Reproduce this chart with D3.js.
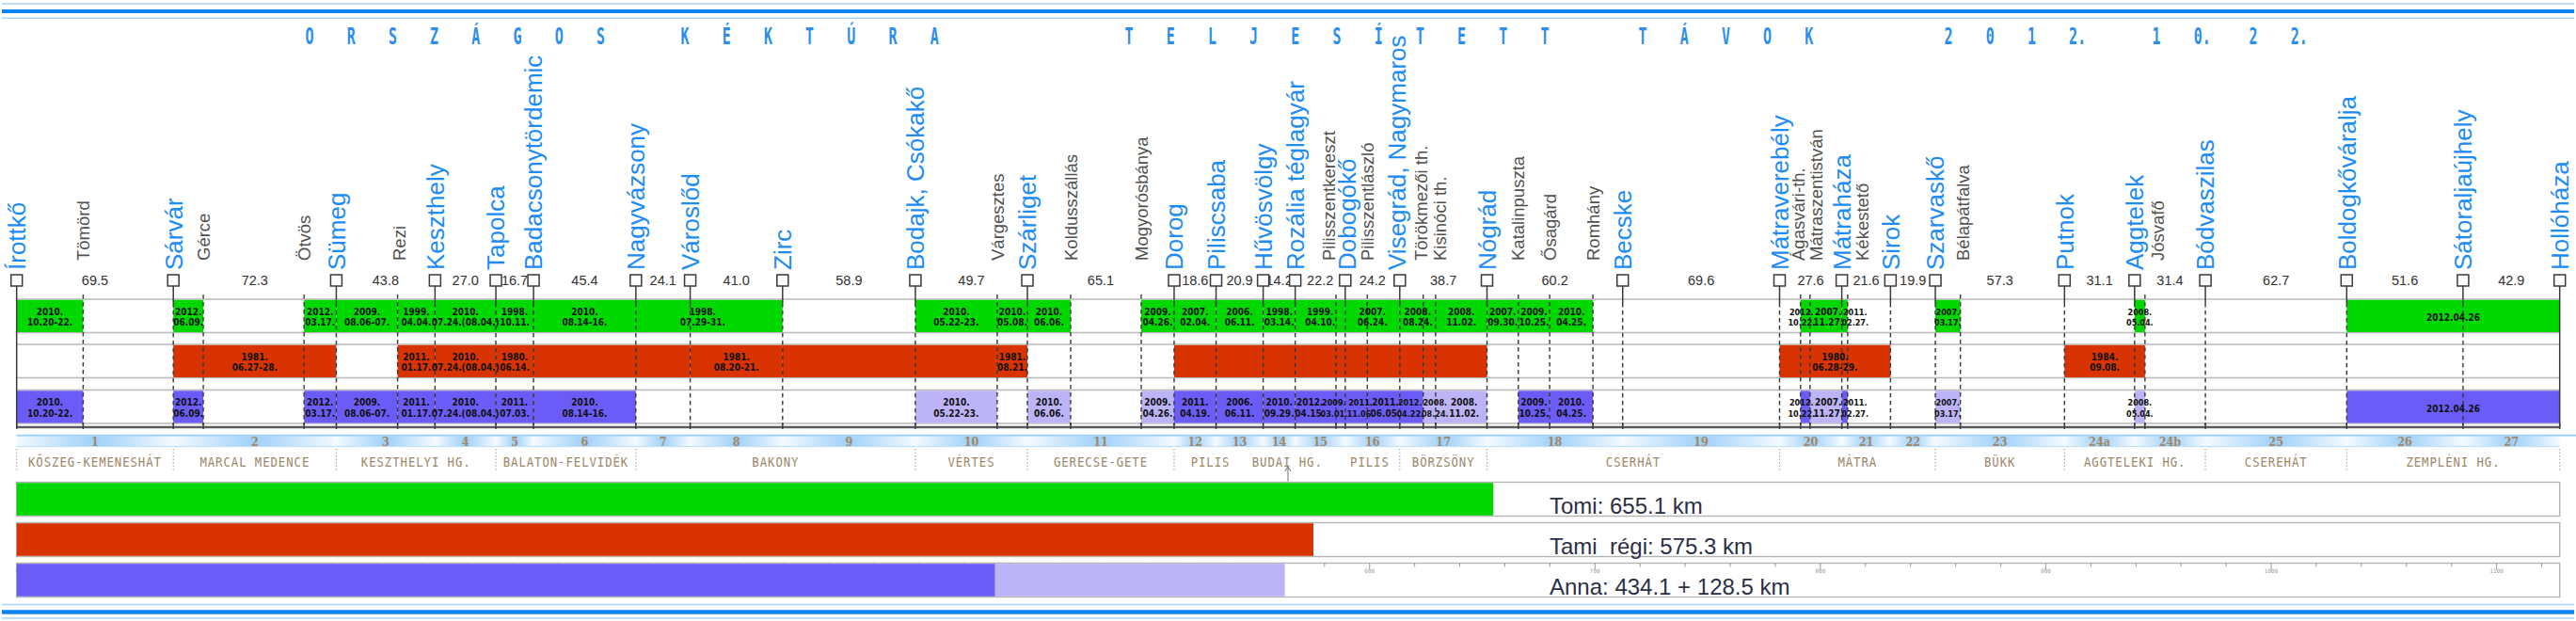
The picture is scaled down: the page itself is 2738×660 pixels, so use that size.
<!DOCTYPE html>
<html><head><meta charset="utf-8">
<script src="https://cdn.jsdelivr.net/npm/d3@7"></script>
<style>
html,body{margin:0;padding:0;background:#fff;}
svg{display:block;}
</style></head><body>
<svg id="chart" width="2738" height="660"></svg>
<script>
// ================= DATA =================
const titleWords = ["ORSZÁGOS","KÉKTÚRA","TELJESÍTETT","TÁVOK","2012.","10.","22."];

const stations = ["Írottkő","Sárvár","Sümeg","Keszthely","Tapolca","Badacsonytördemic","Nagyvázsony","Városlőd","Zirc","Bodajk, Csókakő","Szárliget","Dorog","Piliscsaba","Hűvösvölgy","Rozália téglagyár","Dobogókő","Visegrád, Nagymaros","Nógrád","Becske","Mátraverebély","Mátraháza","Sirok","Szarvaskő","Putnok","Aggtelek","Bódvaszilas","Boldogkőváralja","Sátoraljaújhely","Hollóháza"];
const legKm = [69.5,72.3,43.8,27.0,16.7,45.4,24.1,41.0,58.9,49.7,65.1,18.6,20.9,14.2,22.2,24.2,38.7,60.2,69.6,27.6,21.6,19.9,57.3,31.1,31.4,62.7,51.6,42.9];
const stageLabels = ["1","2","3","4","5","6","7","8","9","10","11","12","13","14","15","16","17","18","19","20","21","22","23","24a","24b","25","26","27"];

const minorStations = ["Tömörd","Gérce","Ötvös","Rezi","Várgesztes","Koldusszállás","Mogyorósbánya","Pilisszentkereszt","Pilisszentlászló","Törökmezői th.","Kisinóci th.","Katalinpuszta","Ősagárd","Romhány","Ágasvári-th.","Mátraszentistván","Kékestető","Bélapátfalva","Jósvafő"];
const minorKm = [29.5,82.8,127.5,169.0,435.0,467.6,498.9,585.3,599.2,624.0,629.5,666.2,680.1,699.3,791.4,795.6,812.3,862.3,944.2];

const regionNames = ["KŐSZEG-KEMENESHÁT","MARCAL MEDENCE","KESZTHELYI HG.","BALATON-FELVIDÉK","BAKONY","VÉRTES","GERECSE-GETE","PILIS","BUDAI HG.","PILIS","BÖRZSÖNY","CSERHÁT","MÁTRA","BÜKK","AGGTELEKI HG.","CSEREHÁT","ZEMPLÉNI HG."];
const regionFrom = ["Írottkő","Sárvár","Sümeg","Tapolca","Nagyvázsony","Bodajk, Csókakő","Szárliget","Dorog","Dorog","Dorog","Visegrád, Nagymaros","Nógrád","Mátraverebély","Szarvaskő","Putnok","Bódvaszilas","Boldogkőváralja"];
const regionTo = ["Sárvár","Sümeg","Tapolca","Nagyvázsony","Bodajk, Csókakő","Szárliget","Dorog","Visegrád, Nagymaros","Visegrád, Nagymaros","Visegrád, Nagymaros","Nógrád","Mátraverebély","Szarvaskő","Putnok","Bódvaszilas","Boldogkőváralja","Hollóháza"];
const regionLabelKm = [null,null,null,null,null,null,null,529.6,563.7,600.3,null,null,null,null,null,null,null];
const budapestMarkKm = 564.0;

// Tomi
const tomiLegs = [
  ["Írottkő","Tömörd","2010.|10.20-22."],
  ["Sárvár","Gérce","2012.|06.09."],
  ["Ötvös","Sümeg","2012.|03.17."],
  ["Sümeg","Rezi","2009.|08.06-07."],
  ["Rezi","Keszthely","1999.|04.04."],
  ["Keszthely","Tapolca","2010.|07.24.(08.04.)"],
  ["Tapolca","Badacsonytördemic","1998.|10.11."],
  ["Badacsonytördemic","Nagyvázsony","2010.|08.14-16."],
  ["Nagyvázsony","Zirc","1998.|07.29-31."],
  ["Bodajk, Csókakő","Várgesztes","2010.|05.22-23."],
  ["Várgesztes","Szárliget","2010.|05.08."],
  ["Szárliget","Koldusszállás","2010.|06.06."],
  ["Mogyorósbánya","Dorog","2009.|04.26."],
  ["Dorog","Piliscsaba","2007.|02.04."],
  ["Piliscsaba","Hűvösvölgy","2006.|06.11."],
  ["Hűvösvölgy","Rozália téglagyár","1998.|03.14."],
  ["Rozália téglagyár","Dobogókő","1999.|04.10."],
  ["Dobogókő","Visegrád, Nagymaros","2007.|06.24."],
  ["Visegrád, Nagymaros","Kisinóci th.","2008.|08.24."],
  ["Kisinóci th.","Nógrád","2008.|11.02."],
  ["Nógrád","Katalinpuszta","2007.|09.30."],
  ["Katalinpuszta","Ősagárd","2009.|10.25."],
  ["Ősagárd","Romhány","2010.|04.25."],
  ["Ágasvári-th.","Mátraszentistván","2012.|10.22."],
  ["Mátraszentistván","Mátraháza","2007.|11.27."],
  ["Mátraháza","Kékestető","2011.|02.27."],
  ["Szarvaskő","Bélapátfalva","2007.|03.17."],
  ["Aggtelek","Jósvafő","2008.|05.04."],
  ["Boldogkőváralja","Hollóháza","2012.04.26"]
];
// Tami régi
const tamiLegs = [
  ["Sárvár","Sümeg","1981.|06.27-28."],
  ["Rezi","Keszthely","2011.|01.17."],
  ["Keszthely","Tapolca","2010.|07.24.(08.04.)"],
  ["Tapolca","Badacsonytördemic","1980.|06.14."],
  ["Badacsonytördemic","Városlőd",""],
  ["Városlőd","Zirc","1981.|08.20-21."],
  ["Zirc","Várgesztes",""],
  ["Várgesztes","Szárliget","1981.|08.21."],
  ["Dorog","Nógrád",""],
  ["Mátraverebély","Sirok","1980.|06.28-29."],
  ["Putnok","Jósvafő","1984.|09.08."]
];
// Anna (d = teljes, l = világos)
const annaLegs = [
  ["Írottkő","Tömörd","2010.|10.20-22.","d"],
  ["Sárvár","Gérce","2012.|06.09.","d"],
  ["Ötvös","Sümeg","2012.|03.17.","d"],
  ["Sümeg","Rezi","2009.|08.06-07.","d"],
  ["Rezi","Keszthely","2011.|01.17.","d"],
  ["Keszthely","Tapolca","2010.|07.24.(08.04.)","d"],
  ["Tapolca","Badacsonytördemic","2011.|07.03.","d"],
  ["Badacsonytördemic","Nagyvázsony","2010.|08.14-16.","d"],
  ["Bodajk, Csókakő","Várgesztes","2010.|05.22-23.","l"],
  ["Szárliget","Koldusszállás","2010.|06.06.","l"],
  ["Mogyorósbánya","Dorog","2009.|04.26.","l"],
  ["Dorog","Piliscsaba","2011.|04.19.","d"],
  ["Piliscsaba","Hűvösvölgy","2006.|06.11.","d"],
  ["Hűvösvölgy","Rozália téglagyár","2010.|09.29.","d"],
  ["Rozália téglagyár","Pilisszentkereszt","2012.|04.15.","d"],
  ["Pilisszentkereszt","Dobogókő","2009.|03.01.","d"],
  ["Dobogókő","Pilisszentlászló","2011.|11.06.","d"],
  ["Pilisszentlászló","Visegrád, Nagymaros","2011.|06.05.","d"],
  ["Visegrád, Nagymaros","Törökmezői th.","2012.|04.22.","d"],
  ["Törökmezői th.","Kisinóci th.","2008.|08.24.","l"],
  ["Kisinóci th.","Nógrád","2008.|11.02.","l"],
  ["Katalinpuszta","Ősagárd","2009.|10.25.","d"],
  ["Ősagárd","Romhány","2010.|04.25.","d"],
  ["Ágasvári-th.","Mátraszentistván","2012.|10.22.","d"],
  ["Mátraszentistván","Mátraháza","2007.|11.27.","l"],
  ["Mátraháza","Kékestető","2011.|02.27.","d"],
  ["Szarvaskő","Bélapátfalva","2007.|03.17.","l"],
  ["Aggtelek","Jósvafő","2008.|05.04.","l"],
  ["Boldogkőváralja","Hollóháza","2012.04.26","d"]
];

const summaryLabels = ["Tomi: 655.1 km","Tami  régi: 575.3 km","Anna: 434.1 + 128.5 km"];
const summaryDone = [655.1, 575.3, 434.1];
const summaryPartial = [0, 0, 128.5];

// ================= LAYOUT =================
const svg = d3.select("#chart");
const cum = [0, ...d3.cumsum(legKm)];
const totalKm = cum[cum.length - 1];
const x = d3.scaleLinear().domain([0, totalKm]).range([17.7, 2720.7]);
const kmOf = new Map();
stations.forEach((s, i) => kmOf.set(s, cum[i]));
minorStations.forEach((s, i) => kmOf.set(s, minorKm[i]));
const X = n => x(kmOf.get(n));

// label nudges (layout only)
const nameDx = {"Pilisszentkereszt": -7.5, "Ágasvári-th.": -2, "Mátraszentistván": 6.5, "Kékestető": 15.5,
  "Törökmezői th.": -2, "Kisinóci th.": 4, "Jósvafő": 13.5, "Bélapátfalva": 3, "Rezi": 2,
  "Dobogókő": 2, "Visegrád, Nagymaros": -3};
const dateDx = {"0|Ágasvári-th.": -4, "2|Ágasvári-th.": -4, "0|Mátraszentistván": 2.5, "2|Mátraszentistván": 2.5,
  "0|Mátraháza": 11, "2|Mátraháza": 11, "2|Rozália téglagyár": -6, "2|Pilisszentkereszt": -7,
  "2|Dobogókő": 4.5, "2|Pilisszentlászló": 2, "2|Visegrád, Nagymaros": -1.5,
  "2|Törökmezői th.": 6, "2|Kisinóci th.": 3, "0|Nagyvázsony": -7};

const BLUE = "#1d8cf5";
const SANS = "'Liberation Sans', Arial, sans-serif";
const NARROW = "'Liberation Sans Narrow', 'DejaVu Sans Condensed', sans-serif";
const MONO = "'DejaVu Sans Mono', monospace";

// decorative lines top & bottom
[[4,1.6,"#a9d5fb"],[12,4,"#0b83f1"],[19.2,1.6,"#a9d5fb"],[642.5,1.6,"#a9d5fb"],[650.5,4.4,"#0b83f1"],[657,1.6,"#a9d5fb"]]
  .forEach(([y,w,c]) => svg.append("line").attr("x1",2).attr("x2",2736).attr("y1",y).attr("y2",y)
    .attr("stroke",c).attr("stroke-width",w));

// title
const titleX = [329,728,1200,1746,2071,2292,2395];
const pitch = 44.2;
titleWords.forEach((w, i) => {
  const toks = w.match(/[^.]\.?/g);
  toks.forEach((t, j) => {
    svg.append("text")
      .attr("transform", `translate(${titleX[i] + j * pitch},47) scale(0.6,1)`)
      .attr("x", -7.5)
      .attr("font-family", MONO).attr("font-size", 25).attr("font-weight", "bold").attr("fill", "#2b8eec")
      .text(t);
  });
});

// ---- grid rows ----
const rowTop = [318, 366, 414.5], rowH = 35.5;
const gx0 = x(0), gx1 = x(totalKm);
const rowsG = svg.append("g");
rowTop.forEach(t => {
  [t, t + rowH].forEach(y => rowsG.append("line").attr("x1",gx0).attr("x2",gx1).attr("y1",y).attr("y2",y)
    .attr("stroke","#b8b8b8").attr("stroke-width",1.4));
});
rowsG.append("line").attr("x1",gx0).attr("x2",gx1).attr("y1",454).attr("y2",454)
  .attr("stroke","#5c5c5c").attr("stroke-width",2.4);

const allRows = [tomiLegs, tamiLegs, annaLegs];
const colorOf = (r, shade) => r === 0 ? "#00d800" : r === 1 ? "#d83300" : (shade === "l" ? "#bdb4f8" : "#6c5cf7");
allRows.forEach((legs, r) => {
  const g = svg.append("g");
  g.selectAll("rect").data(legs).join("rect")
    .attr("x", d => X(d[0])).attr("width", d => X(d[1]) - X(d[0]))
    .attr("y", rowTop[r] + 0.8).attr("height", rowH - 1.3)
    .attr("fill", d => colorOf(r, d[3]));
});

// station lines
const lineG = svg.append("g");
minorStations.forEach(s => {
  lineG.append("line").attr("x1",X(s)).attr("x2",X(s)).attr("y1",313).attr("y2",452)
    .attr("stroke","#383838").attr("stroke-width",1.4).attr("stroke-dasharray","4.5,3.5");
});
stations.forEach((s, i) => {
  const xx = X(s), edge = (i === 0 || i === stations.length - 1);
  lineG.append("line").attr("x1",xx).attr("x2",xx).attr("y1",304).attr("y2",edge ? 454 : 322)
    .attr("stroke","#3a3a3a").attr("stroke-width",1.5);
  if (!edge) lineG.append("line").attr("x1",xx).attr("x2",xx).attr("y1",322).attr("y2",452)
    .attr("stroke","#383838").attr("stroke-width",1.4).attr("stroke-dasharray","4.5,3.5");
});
[...stations, ...minorStations].forEach(s => {
  lineG.append("line").attr("x1",X(s)).attr("x2",X(s)).attr("y1",449).attr("y2",456)
    .attr("stroke","#3a3a3a").attr("stroke-width",1.4);
});

// bar labels
allRows.forEach((legs, r) => {
  legs.forEach(d => {
    if (!d[2]) return;
    const w = X(d[1]) - X(d[0]);
    const cx = (X(d[0]) + X(d[1])) / 2 + (dateDx[r + "|" + d[0]] || 0);
    const lines = d[2].split("|");
    const t = svg.append("text").attr("text-anchor","middle")
      .attr("font-family", NARROW).attr("font-weight","bold").attr("font-size", w < 30 ? 9 : 10).attr("fill","#111");
    if (lines.length === 1) {
      t.attr("x", cx).attr("y", rowTop[r] + 23).text(lines[0]);
    } else {
      lines.forEach((ln, k) => t.append("tspan").attr("x", cx).attr("y", rowTop[r] + 16.5 + k * 11.8).text(ln));
    }
  });
});

// station names
stations.forEach(s => {
  svg.append("text").attr("transform", `translate(${X(s) + (nameDx[s] || 0)},287) rotate(-90)`)
    .attr("dy","0.36em").attr("font-family", SANS).attr("font-size", 26).attr("fill", BLUE).text(s);
});
minorStations.forEach(s => {
  svg.append("text").attr("transform", `translate(${X(s) + (nameDx[s] || 0)},277) rotate(-90)`)
    .attr("dy","0.36em").attr("font-family", SANS).attr("font-size", 18.5).attr("fill", "#505050").text(s);
});

// leg distances
legKm.forEach((d, i) => {
  svg.append("text").attr("x", x((cum[i] + cum[i + 1]) / 2)).attr("y", 303)
    .attr("text-anchor","middle").attr("font-family", SANS).attr("font-size", 14.5).attr("fill","#333")
    .text(d.toFixed(1));
});

// markers
svg.append("g").selectAll("rect").data(stations).join("rect")
  .attr("x", d => X(d) - 6).attr("y", 292).attr("width", 12).attr("height", 12)
  .attr("fill","#fff").attr("stroke","#3a3a3a").attr("stroke-width",1.5);

// ---- stage band ----
const defs = svg.append("defs");
const grad = defs.append("linearGradient").attr("id","bandGrad").attr("x1","0").attr("x2","1").attr("y1","0").attr("y2","0");
[[0,"#f4faff"],[0.5,"#9fd0f8"],[1,"#f4faff"]].forEach(([o,c]) => grad.append("stop").attr("offset",o).attr("stop-color",c));
const bandG = svg.append("g");
stageLabels.forEach((lab, i) => {
  bandG.append("rect").attr("x", x(cum[i])).attr("width", x(cum[i + 1]) - x(cum[i]))
    .attr("y", 463.5).attr("height", 11).attr("fill","url(#bandGrad)");
});
bandG.append("line").attr("x1",gx0).attr("x2",2738).attr("y1",462.8).attr("y2",462.8)
  .attr("stroke","#9fd2f8").attr("stroke-width",2);
bandG.append("line").attr("x1",gx0).attr("x2",gx1).attr("y1",474.6).attr("y2",474.6)
  .attr("stroke","#b9ddfa").attr("stroke-width",1);
stageLabels.forEach((lab, i) => {
  bandG.append("text").attr("x", x((cum[i] + cum[i + 1]) / 2)).attr("y", 473.6)
    .attr("text-anchor","middle").attr("font-family","'DejaVu Serif Condensed','DejaVu Serif',serif")
    .attr("font-weight","bold").attr("font-size",12.5).attr("fill","#a08766").text(lab);
});

// regions
const sepSet = new Set([...regionFrom, ...regionTo]);
sepSet.forEach(s => {
  svg.append("line").attr("x1",X(s)).attr("x2",X(s)).attr("y1",477).attr("y2",500)
    .attr("stroke","#aaa").attr("stroke-width",1.2).attr("stroke-dasharray","1.5,2");
});
regionNames.forEach((n, i) => {
  const cx = regionLabelKm[i] != null ? x(regionLabelKm[i]) : (X(regionFrom[i]) + X(regionTo[i])) / 2;
  svg.append("text").attr("transform", `translate(${cx},496) scale(0.85,1)`)
    .attr("text-anchor","middle").attr("font-family", MONO).attr("font-size",14.5)
    .attr("letter-spacing","1.1px").attr("fill","#9c8668").text(n);
});
// Budapest mark
const bx = x(budapestMarkKm);
svg.append("path").attr("d", `M${bx},511.5 L${bx},495.5 M${bx-3},501 L${bx},495.5 L${bx+3},501`)
  .attr("stroke","#8a8a8a").attr("stroke-width",1.2).attr("fill","none");

// ---- summary bars ----
const sumTop = [512.5, 555.5, 598.5], sumH = 36;
sumTop.forEach(t => svg.append("rect").attr("x",gx0).attr("y",t).attr("width",gx1 - gx0).attr("height",sumH)
  .attr("fill","#fff").attr("stroke","#b4b4b4").attr("stroke-width",1.4));

const axis = d3.axisBottom(x).tickValues(d3.range(0, totalKm, 20)).tickSize(4).tickPadding(2)
  .tickFormat(d => d % 100 === 0 ? d : "");
const ag = svg.append("g").attr("transform", `translate(0,${sumTop[2]})`).call(axis);
ag.select(".domain").remove();
ag.selectAll(".tick line").attr("stroke","#9a9a9a").attr("y2", d => d % 100 === 0 ? 7 : 4);
ag.selectAll(".tick text").attr("font-size",6).attr("fill","#999").attr("font-family",MONO).attr("y",6.5);

const sumColors = ["#00d800", "#d83300", "#6c5cf7"];
summaryDone.forEach((v, i) => {
  svg.append("rect").attr("x", x(0)).attr("y", sumTop[i] + 0.7).attr("width", x(v) - x(0)).attr("height", sumH - 1.4)
    .attr("fill", sumColors[i]);
  if (summaryPartial[i] > 0)
    svg.append("rect").attr("x", x(v)).attr("y", sumTop[i] + 0.7).attr("width", x(v + summaryPartial[i]) - x(v))
      .attr("height", sumH - 1.4).attr("fill", "#bdb4f8");
  svg.append("text").attr("x", 1647).attr("y", sumTop[i] + 33.5)
    .style("white-space","pre")
    .attr("font-family", SANS).attr("font-size", 24).attr("fill", "#2b2f45").text(summaryLabels[i]);
});
</script>
</body></html>
